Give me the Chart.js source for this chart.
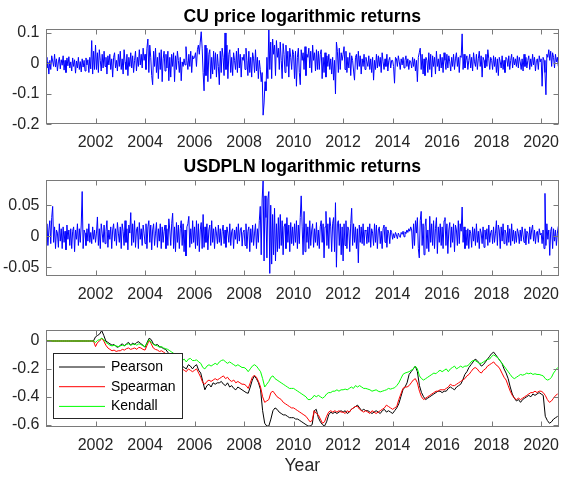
<!DOCTYPE html>
<html>
<head>
<meta charset="utf-8">
<script src="https://cdn.jsdelivr.net/npm/chart.js@4.4.1/dist/chart.umd.min.js"></script>
<style>
body { margin: 0; background: #fff; }
#wrap { position: relative; width: 568px; height: 477px; }
canvas { position: absolute; left: 0; }
</style>
</head>
<body>
<div id="wrap">
<canvas id="cuChart" width="568" height="150" style="top:0px"></canvas>
<canvas id="fxChart" width="568" height="155" style="top:150px"></canvas>
<canvas id="corrChart" width="568" height="172" style="top:305px"></canvas>
</div>
<script>
// one row per year, 26 biweekly readings (2020 is partial)
const cuReturns = [
  [0.02,-0.015,0.005,-0.035,0.01,-0.02,0.025,0.008,-0.01,0.03,-0.012,0.015,-0.025,0.005,0.02,-0.018,0.012,-0.006,0.025,-0.022,0.01,-0.03,0.018,-0.008,0.022,-0.015],
  [0.005,-0.025,0.018,-0.01,0.012,-0.032,0.008,-0.015,0.02,-0.02,0.006,-0.028,0.015,-0.012,0.01,-0.025,0.018,-0.005,0.012,-0.03,0.02,-0.018,0.075,-0.035,0.04,-0.02],
  [0.06,-0.02,0.035,-0.03,0.045,0.01,-0.025,0.03,-0.015,0.04,-0.01,0.02,-0.035,0.025,-0.005,0.03,-0.02,0.015,-0.045,0.02,0.035,-0.015,0.01,-0.025,0.03,-0.01],
  [0.04,-0.02,0.015,-0.035,0.045,0.005,-0.02,0.03,-0.04,0.02,-0.01,0.035,-0.015,0.025,-0.03,0.01,0.04,-0.025,0.02,-0.01,0.045,-0.005,0.03,-0.015,0.05,0.01],
  [0.03,-0.02,0.05,0.08,-0.03,0.06,0.02,-0.04,-0.07,0.04,-0.01,0.05,-0.03,0.02,-0.05,0.035,-0.02,0.045,-0.06,0.015,0.04,-0.025,0.03,-0.015,0.04,-0.057],
  [0.02,-0.045,0.03,-0.01,0.035,-0.06,0.025,-0.02,0.04,0.01,-0.03,0.02,-0.057,0.005,-0.01,0.015,-0.005,0.055,0.01,-0.02,0.03,-0.01,0.04,-0.03,0.025,0.015],
  [0.02,0.035,-0.01,0.045,0.06,0.03,0.07,0.104,0.05,-0.03,-0.09,0.06,-0.04,0.05,-0.06,0.03,0.045,-0.05,0.02,-0.035,0.04,-0.02,0.035,-0.045,0.03,-0.01],
  [-0.07,0.04,-0.03,0.05,0.02,-0.04,0.1,-0.02,0.06,-0.05,0.03,0.045,-0.03,0.02,-0.04,0.035,0.01,-0.02,0.04,-0.03,0.05,-0.015,0.03,-0.045,0.02,0.01],
  [0.03,-0.02,0.05,0.01,-0.04,0.04,-0.03,0.02,-0.045,0.035,0.015,-0.03,0.045,-0.025,0.02,-0.05,0.01,-0.02,-0.06,-0.03,-0.17,-0.13,-0.06,-0.09,0.02,-0.05],
  [0.12,-0.02,0.07,-0.05,0.08,0.03,0.06,-0.04,0.075,0.02,0.05,-0.02,0.07,0.01,-0.05,0.065,0.03,-0.03,0.06,-0.01,0.04,-0.045,0.05,0.02,-0.02,0.045],
  [0.03,-0.05,0.04,-0.075,0.02,0.05,-0.03,-0.07,0.045,0.01,0.035,-0.02,0.055,-0.04,0.03,0.02,0.05,-0.015,0.04,-0.03,0.06,0.01,0.035,-0.025,0.045,-0.02],
  [0.04,-0.02,0.03,0.045,-0.05,0.02,-0.03,0.035,-0.045,0.025,-0.01,0.03,-0.02,0.015,-0.035,0.02,-0.055,0.01,-0.1,0.07,0.04,-0.03,0.05,-0.02,0.035,0.01],
  [0.03,0.055,-0.02,0.04,-0.03,0.02,-0.015,0.035,-0.04,0.025,0.01,-0.025,-0.055,0.02,0.03,-0.02,0.04,-0.01,0.025,-0.035,0.015,-0.01,0.03,-0.02,0.02,0.005],
  [-0.01,0.025,-0.02,0.015,-0.03,0.02,-0.055,0.01,-0.02,0.03,-0.015,0.025,-0.01,0.02,-0.03,0.035,0.005,-0.02,0.015,-0.01,0.03,-0.025,0.01,0.02,-0.015,0.01],
  [0.01,-0.01,-0.065,0.02,0.015,-0.01,0.025,0.005,-0.02,0.015,-0.005,0.02,-0.015,0.01,0.025,-0.01,0.015,-0.02,0.01,0.005,-0.015,0.02,-0.01,0.015,-0.025,0.01],
  [-0.06,0.02,0.035,0.05,-0.02,0.03,-0.035,0.015,-0.04,0.02,0.01,-0.03,0.035,-0.02,0.03,-0.045,0.025,-0.01,0.02,-0.035,0.04,-0.01,0.015,-0.025,0.03,-0.015],
  [0.02,-0.03,0.035,0.01,-0.02,0.03,-0.015,0.025,0.005,-0.025,0.02,-0.01,0.03,-0.02,0.015,0.035,-0.01,0.02,-0.03,0.025,0.02,0.097,-0.02,0.03,-0.015,0.01],
  [0.025,-0.02,0.01,0.03,-0.015,0.02,-0.025,0.035,0.005,-0.01,0.03,-0.02,0.015,0.04,-0.01,0.025,-0.045,0.02,0.01,-0.015,0.03,-0.01,0.045,0.015,-0.02,0.02],
  [0.01,-0.02,0.025,-0.01,0.02,-0.03,0.015,-0.04,0.02,0.005,-0.015,0.025,-0.02,0.01,-0.03,0.02,0.015,-0.01,0.025,-0.02,0.01,0.03,-0.015,0.02,-0.005,0.015],
  [-0.01,0.025,-0.015,0.02,0.005,-0.02,0.015,-0.025,0.03,-0.01,0.02,-0.015,0.01,0.025,-0.02,0.015,-0.01,0.03,-0.005,0.02,-0.025,0.01,0.015,-0.02,0.025,0.005],
  [0.015,-0.075,0.02,0.01,-0.03,-0.103,0.03,0.02,0.045,0.01,0.04,-0.01,0.035,0.02,-0.015,0.03,0.005,0.02,-0.01]
];

const usdplnReturns = [
  [-0.01,0.02,-0.015,0.01,0.025,-0.012,0.03,0.048,-0.01,0.015,-0.02,0.01,0.005,-0.018,0.02,-0.008,0.012,-0.02,0.015,-0.01,0.008,-0.022,0.018,-0.005,0.01,-0.015],
  [0.012,-0.02,0.008,0.015,-0.025,0.01,-0.005,0.02,-0.015,0.012,-0.01,0.018,0.072,-0.02,0.01,0.005,-0.015,0.012,-0.008,0.02,-0.01,0.006,-0.012,0.015,-0.005,0.01],
  [-0.01,0.005,0.031,-0.015,0.012,-0.02,0.02,0.005,-0.01,0.018,-0.012,0.008,0.025,-0.018,0.01,-0.005,0.015,-0.02,0.01,0.02,-0.008,0.012,-0.015,0.022,0.005,-0.01],
  [0.015,-0.02,0.02,0.008,-0.015,0.025,-0.01,0.012,-0.022,0.018,0.005,0.038,-0.015,0.02,-0.01,0.025,-0.018,0.01,0.015,-0.02,0.022,-0.005,0.012,-0.015,0.018,0.005],
  [-0.012,0.02,-0.02,0.015,0.025,-0.01,0.018,-0.022,0.01,0.02,-0.015,0.005,0.022,-0.018,0.012,-0.008,0.02,-0.02,0.015,-0.01,0.008,0.018,-0.02,0.012,-0.015,0.028],
  [0.01,-0.015,0.02,0.037,-0.02,0.015,-0.025,0.022,-0.01,0.018,-0.02,0.012,0.025,-0.015,0.02,-0.025,0.01,-0.032,0.015,0.02,0.032,-0.018,0.012,-0.012,0.025,-0.01],
  [0.015,-0.02,0.025,-0.015,0.02,-0.025,0.01,0.022,-0.02,0.035,-0.018,0.015,-0.01,0.02,-0.022,0.01,0.018,-0.015,0.025,-0.01,0.012,-0.02,0.015,0.005,-0.012,0.018],
  [-0.01,0.012,-0.015,0.008,0.018,-0.012,0.01,-0.018,0.015,0.005,-0.01,0.02,-0.015,0.008,0.012,-0.02,0.01,-0.005,0.015,-0.012,0.02,-0.008,0.01,0.014,-0.016,0.006],
  [0.01,-0.015,0.02,-0.02,0.008,0.015,-0.025,0.012,-0.01,0.018,-0.015,0.005,0.02,-0.02,0.012,-0.01,0.025,0.048,-0.03,0.06,0.09,-0.04,0.065,0.03,-0.035,0.06],
  [0.072,-0.06,0.05,-0.045,0.035,-0.03,0.045,-0.04,0.02,-0.025,0.03,-0.02,0.035,-0.015,0.025,-0.03,0.015,0.02,-0.02,0.03,-0.01,0.018,-0.025,0.022,-0.012,0.015],
  [-0.015,0.02,-0.01,0.025,-0.02,0.018,-0.012,0.03,0.065,0.015,-0.03,0.04,-0.025,0.02,-0.01,0.015,-0.02,0.025,-0.015,0.01,0.02,-0.018,0.012,-0.01,0.022,-0.015],
  [0.01,-0.02,0.015,0.025,-0.01,0.02,-0.035,0.015,0.04,-0.015,0.02,-0.02,0.03,0.015,-0.025,0.02,0.03,-0.025,0.054,-0.05,0.02,0.025,-0.015,0.02,-0.03,0.015],
  [-0.04,0.02,-0.015,0.025,-0.02,0.015,0.01,-0.025,0.02,0.045,-0.015,0.02,-0.01,0.015,-0.02,0.012,-0.043,0.018,-0.01,0.015,-0.012,0.02,-0.015,0.01,0.008,-0.012],
  [0.015,-0.01,0.02,-0.018,0.012,0.005,-0.015,0.02,-0.01,0.018,-0.02,0.01,0.015,-0.012,0.008,-0.02,0.012,0.018,-0.01,0.015,-0.018,0.01,0.005,-0.012,0.01,0.006],
  [-0.005,0.004,-0.003,0.006,0.002,-0.004,0.005,0.001,-0.002,0.006,0.003,0.008,-0.001,0.007,0.004,0.01,0.006,0.012,0.008,0.015,0.01,-0.02,0.02,-0.015,0.025,0.005],
  [0.03,-0.02,-0.035,0.025,0.04,-0.015,0.02,-0.03,0.015,0.028,-0.02,0.01,-0.025,0.032,-0.01,0.02,-0.015,0.025,-0.02,0.012,0.03,-0.028,0.015,-0.01,0.02,-0.015],
  [0.015,-0.02,0.025,0.03,-0.015,0.02,-0.028,0.01,0.022,-0.018,0.015,-0.01,0.02,-0.025,0.018,0.01,-0.015,0.025,-0.012,0.02,0.008,0.047,-0.01,0.015,-0.02,0.01],
  [-0.015,0.012,-0.02,0.01,0.005,-0.018,0.015,-0.008,0.012,-0.015,0.02,-0.01,0.008,-0.02,0.012,0.005,-0.012,0.015,-0.018,0.01,-0.005,0.012,-0.015,0.018,-0.01,0.006],
  [0.01,-0.012,0.015,-0.01,0.005,0.025,-0.015,0.018,0.01,-0.02,0.015,-0.008,0.02,-0.012,0.01,0.005,-0.015,0.018,-0.01,0.012,-0.015,0.02,-0.008,0.01,-0.012,0.008],
  [-0.01,0.012,0.005,-0.012,0.01,-0.008,0.015,0.002,-0.01,0.012,-0.014,0.008,0.005,-0.012,0.015,-0.005,0.01,0.018,-0.008,0.01,-0.012,0.005,0.008,-0.01,0.012,0.002],
  [0.005,-0.012,0.01,-0.02,0.069,-0.015,0.02,-0.005,0.01,-0.031,0.008,0.015,-0.02,0.012,-0.008,0.01,-0.015,0.005,0.016]
];

// rolling correlations, one row per year, monthly readings
const pearson = [
  [0,0,0,0,0,0,0,0,0,0,0,0],
  [0,0,0,0,0,0,0,0,0,0,0,0],
  [0.03,0.04,0.05,0.075,0.04,0.0,-0.01,-0.02,-0.03,-0.025,-0.04,-0.045],
  [-0.03,-0.02,-0.035,-0.02,-0.01,-0.03,-0.015,-0.025,-0.01,-0.005,-0.02,-0.03],
  [-0.045,-0.01,0.02,0.01,-0.02,-0.03,-0.025,-0.04,-0.045,-0.055,-0.06,-0.08],
  [-0.1,-0.12,-0.14,-0.15,-0.17,-0.2,-0.18,-0.19,-0.2,-0.17,-0.18,-0.2],
  [-0.18,-0.17,-0.21,-0.23,-0.29,-0.35,-0.32,-0.31,-0.33,-0.3,-0.31,-0.3],
  [-0.3,-0.29,-0.31,-0.32,-0.3,-0.33,-0.32,-0.34,-0.35,-0.33,-0.34,-0.35],
  [-0.36,-0.37,-0.375,-0.33,-0.28,-0.25,-0.27,-0.3,-0.35,-0.5,-0.59,-0.61],
  [-0.61,-0.56,-0.5,-0.48,-0.49,-0.51,-0.52,-0.53,-0.53,-0.54,-0.55,-0.55],
  [-0.55,-0.56,-0.56,-0.57,-0.58,-0.59,-0.6,-0.61,-0.61,-0.6,-0.5,-0.49],
  [-0.55,-0.58,-0.6,-0.61,-0.58,-0.53,-0.51,-0.52,-0.51,-0.52,-0.51,-0.5],
  [-0.51,-0.5,-0.52,-0.51,-0.49,-0.48,-0.47,-0.46,-0.48,-0.5,-0.49,-0.5],
  [-0.5,-0.51,-0.52,-0.51,-0.5,-0.51,-0.52,-0.5,-0.49,-0.51,-0.5,-0.51],
  [-0.52,-0.5,-0.48,-0.45,-0.4,-0.35,-0.33,-0.3,-0.24,-0.22,-0.2,-0.18],
  [-0.22,-0.32,-0.37,-0.4,-0.42,-0.41,-0.4,-0.39,-0.38,-0.37,-0.36,-0.36],
  [-0.37,-0.36,-0.36,-0.34,-0.33,-0.34,-0.35,-0.33,-0.32,-0.31,-0.28,-0.24],
  [-0.22,-0.19,-0.17,-0.15,-0.13,-0.14,-0.16,-0.18,-0.17,-0.15,-0.13,-0.11],
  [-0.09,-0.08,-0.1,-0.12,-0.14,-0.16,-0.2,-0.23,-0.27,-0.33,-0.38,-0.41],
  [-0.43,-0.42,-0.44,-0.42,-0.41,-0.4,-0.39,-0.4,-0.38,-0.39,-0.38,-0.37],
  [-0.38,-0.39,-0.54,-0.57,-0.59,-0.58,-0.56,-0.55,-0.54]
];
const spearman = [
  [0,0,0,0,0,0,0,0,0,0,0,0],
  [0,0,0,0,0,0,0,0,0,0,0,0],
  [-0.04,-0.01,0.0,0.02,0.0,-0.03,-0.05,-0.06,-0.07,-0.065,-0.075,-0.07],
  [-0.07,-0.06,-0.065,-0.055,-0.05,-0.06,-0.055,-0.05,-0.06,-0.045,-0.05,-0.06],
  [-0.065,-0.03,0.005,-0.02,-0.05,-0.06,-0.065,-0.075,-0.07,-0.08,-0.09,-0.1],
  [-0.11,-0.13,-0.15,-0.17,-0.19,-0.21,-0.2,-0.21,-0.22,-0.2,-0.21,-0.22],
  [-0.21,-0.2,-0.23,-0.26,-0.3,-0.31,-0.29,-0.28,-0.29,-0.28,-0.27,-0.28],
  [-0.27,-0.26,-0.25,-0.27,-0.26,-0.28,-0.29,-0.28,-0.3,-0.29,-0.3,-0.31],
  [-0.31,-0.32,-0.34,-0.3,-0.26,-0.245,-0.26,-0.29,-0.33,-0.4,-0.44,-0.43],
  [-0.42,-0.37,-0.36,-0.38,-0.4,-0.41,-0.42,-0.44,-0.45,-0.46,-0.47,-0.48],
  [-0.48,-0.49,-0.5,-0.51,-0.52,-0.53,-0.54,-0.56,-0.58,-0.57,-0.5,-0.52],
  [-0.53,-0.56,-0.59,-0.58,-0.54,-0.51,-0.5,-0.51,-0.5,-0.51,-0.5,-0.51],
  [-0.51,-0.52,-0.5,-0.51,-0.49,-0.48,-0.47,-0.47,-0.49,-0.5,-0.51,-0.5],
  [-0.51,-0.52,-0.5,-0.51,-0.52,-0.51,-0.5,-0.49,-0.48,-0.46,-0.47,-0.48],
  [-0.49,-0.48,-0.47,-0.42,-0.38,-0.34,-0.33,-0.33,-0.32,-0.3,-0.28,-0.27],
  [-0.3,-0.36,-0.4,-0.42,-0.41,-0.4,-0.39,-0.38,-0.37,-0.36,-0.36,-0.35],
  [-0.35,-0.35,-0.34,-0.33,-0.31,-0.32,-0.32,-0.31,-0.3,-0.29,-0.28,-0.27],
  [-0.25,-0.24,-0.22,-0.2,-0.19,-0.2,-0.22,-0.23,-0.21,-0.2,-0.18,-0.17],
  [-0.16,-0.15,-0.17,-0.18,-0.2,-0.23,-0.26,-0.28,-0.32,-0.36,-0.39,-0.41],
  [-0.42,-0.41,-0.42,-0.41,-0.4,-0.39,-0.38,-0.37,-0.37,-0.36,-0.37,-0.36],
  [-0.36,-0.37,-0.39,-0.42,-0.44,-0.43,-0.41,-0.39,-0.38]
];
const kendall = [
  [0,0,0,0,0,0,0,0,0,0,0,0],
  [0,0,0,0,0,0,0,0,0,0,0,0],
  [-0.01,0.005,0.01,0.02,0.01,-0.01,-0.02,-0.03,-0.035,-0.03,-0.035,-0.04],
  [-0.035,-0.03,-0.035,-0.025,-0.02,-0.03,-0.025,-0.02,-0.03,-0.02,-0.025,-0.035],
  [-0.04,-0.015,0.01,-0.01,-0.025,-0.03,-0.035,-0.045,-0.04,-0.05,-0.055,-0.06],
  [-0.07,-0.08,-0.09,-0.11,-0.13,-0.15,-0.14,-0.13,-0.15,-0.13,-0.125,-0.14],
  [-0.14,-0.135,-0.15,-0.16,-0.19,-0.2,-0.18,-0.17,-0.18,-0.17,-0.16,-0.17],
  [-0.15,-0.14,-0.135,-0.15,-0.16,-0.15,-0.16,-0.17,-0.18,-0.17,-0.18,-0.19],
  [-0.19,-0.2,-0.22,-0.2,-0.18,-0.17,-0.18,-0.2,-0.22,-0.27,-0.33,-0.31],
  [-0.29,-0.26,-0.25,-0.27,-0.28,-0.29,-0.3,-0.31,-0.32,-0.33,-0.34,-0.34],
  [-0.34,-0.35,-0.36,-0.37,-0.38,-0.39,-0.4,-0.42,-0.42,-0.41,-0.39,-0.4],
  [-0.39,-0.4,-0.41,-0.4,-0.38,-0.37,-0.37,-0.36,-0.36,-0.35,-0.36,-0.35],
  [-0.35,-0.345,-0.35,-0.34,-0.33,-0.34,-0.32,-0.33,-0.32,-0.33,-0.34,-0.34],
  [-0.345,-0.35,-0.36,-0.355,-0.35,-0.36,-0.365,-0.36,-0.355,-0.35,-0.34,-0.345],
  [-0.34,-0.335,-0.32,-0.3,-0.27,-0.24,-0.23,-0.225,-0.22,-0.21,-0.2,-0.18],
  [-0.2,-0.25,-0.27,-0.28,-0.27,-0.26,-0.25,-0.24,-0.23,-0.235,-0.22,-0.21],
  [-0.22,-0.21,-0.2,-0.22,-0.2,-0.19,-0.18,-0.2,-0.19,-0.18,-0.19,-0.18],
  [-0.18,-0.17,-0.15,-0.14,-0.14,-0.15,-0.16,-0.16,-0.15,-0.14,-0.13,-0.13],
  [-0.11,-0.1,-0.11,-0.12,-0.14,-0.16,-0.18,-0.2,-0.22,-0.24,-0.26,-0.27],
  [-0.26,-0.25,-0.24,-0.245,-0.24,-0.23,-0.235,-0.23,-0.24,-0.235,-0.24,-0.24],
  [-0.245,-0.25,-0.27,-0.28,-0.275,-0.26,-0.23,-0.21,-0.19]
];

const firstYear = 2000;
const yearTicks = [2002, 2004, 2006, 2008, 2010, 2012, 2014, 2016, 2018, 2020];
const cuTicks = [-0.2, -0.1, 0, 0.1];
const fxTicks = [-0.05, 0, 0.05];
const corrTicks = [-0.6, -0.4, -0.2, 0];

const FONT = '"Liberation Sans", Arial, Helvetica, sans-serif';

// turn the year rows into {x, y} points
function toPoints(rows, perYear) {
  const pts = [];
  rows.forEach((row, yi) => {
    row.forEach((v, j) => pts.push({ x: firstYear + yi + j / perYear, y: v }));
  });
  return pts;
}

// box, inward ticks, title, x label and legend like the matlab figure
const matlabAxes = {
  id: 'matlabAxes',
  afterDatasetsDraw(chart, args, opts) {
    const ctx = chart.ctx;
    const a = chart.chartArea;
    const xs = chart.scales.x, ys = chart.scales.y;
    ctx.save();

    if (opts.legend) {
      const lg = opts.legend;
      ctx.fillStyle = '#fff';
      ctx.fillRect(lg.x, lg.y, lg.w, lg.h);
      ctx.strokeStyle = '#262626';
      ctx.lineWidth = 1;
      ctx.strokeRect(lg.x + 0.5, lg.y + 0.5, lg.w, lg.h);
      ctx.font = '14px ' + FONT;
      ctx.textAlign = 'left';
      ctx.textBaseline = 'middle';
      chart.data.datasets.forEach((ds, i) => {
        const yy = lg.y + 14 + i * 19.7;
        ctx.strokeStyle = ds.borderColor;
        ctx.beginPath();
        ctx.moveTo(lg.x + 6, yy);
        ctx.lineTo(lg.x + 52, yy);
        ctx.stroke();
        ctx.fillStyle = '#000';
        ctx.fillText(ds.label, lg.x + 58, yy);
      });
    }

    const L = Math.round(a.left) + 0.5, R = Math.round(a.right) - 0.5;
    const T = Math.round(a.top) + 0.5, B = Math.round(a.bottom) - 0.5;
    ctx.strokeStyle = '#7a7a7a';
    ctx.lineWidth = 1;
    ctx.strokeRect(L, T, R - L, B - T);
    ctx.beginPath();
    xs.ticks.forEach(t => {
      const px = Math.round(xs.getPixelForValue(t.value)) + 0.5;
      ctx.moveTo(px, B); ctx.lineTo(px, B - 5);
      ctx.moveTo(px, T); ctx.lineTo(px, T + 5);
    });
    ys.ticks.forEach(t => {
      const py = Math.round(ys.getPixelForValue(t.value)) + 0.5;
      ctx.moveTo(L, py); ctx.lineTo(L + 5, py);
      ctx.moveTo(R, py); ctx.lineTo(R - 5, py);
    });
    ctx.stroke();

    ctx.textAlign = 'center';
    ctx.textBaseline = 'alphabetic';
    if (opts.title) {
      ctx.fillStyle = '#000';
      ctx.font = 'bold 17.6px ' + FONT;
      ctx.fillText(opts.title, (a.left + a.right) / 2, opts.titleY);
    }
    if (opts.xlabel) {
      ctx.fillStyle = '#262626';
      ctx.font = '17.6px ' + FONT;
      ctx.fillText(opts.xlabel, (a.left + a.right) / 2, opts.xlabelY);
    }
    ctx.restore();
  }
};

function makePanel(id, datasets, yMin, yMax, yTicks, padTop, xHeight, extra) {
  return new Chart(document.getElementById(id), {
    type: 'line',
    data: { datasets: datasets },
    options: {
      responsive: false,
      animation: false,
      events: [],
      layout: { padding: { top: padTop, right: 1, left: 0, bottom: 0 } },
      elements: { point: { radius: 0 }, line: { borderWidth: 1, tension: 0 } },
      plugins: {
        legend: { display: false },
        tooltip: { enabled: false },
        matlabAxes: extra
      },
      scales: {
        x: {
          type: 'linear',
          position: 'bottom',
          min: 2000,
          max: 2020.7,
          grid: { display: false, drawTicks: false },
          border: { display: false },
          afterBuildTicks: s => { s.ticks = yearTicks.map(v => ({ value: v })); },
          afterFit: s => { s.height = xHeight; },
          ticks: {
            autoSkip: false, maxRotation: 0, padding: 9,
            color: '#262626', font: { family: FONT, size: 16 },
            callback: v => String(v)
          }
        },
        y: {
          type: 'linear',
          position: 'left',
          min: yMin,
          max: yMax,
          grid: { display: false, drawTicks: false },
          border: { display: false },
          afterBuildTicks: s => { s.ticks = yTicks.map(v => ({ value: v })); },
          afterFit: s => { s.width = 46; },
          ticks: {
            padding: 6.5,
            color: '#262626', font: { family: FONT, size: 16 },
            callback: v => String(Math.round(v * 1000) / 1000)
          }
        }
      }
    },
    plugins: [matlabAxes]
  });
}

makePanel('cuChart', [{
  label: 'CU', data: toPoints(cuReturns, 26), borderColor: '#0000ff'
}], -0.2, 0.113, cuTicks, 29, 25.7,
  { title: 'CU price logarithmic returns', titleY: 21.7 });

makePanel('fxChart', [{
  label: 'USDPLN', data: toPoints(usdplnReturns, 26), borderColor: '#0000ff'
}], -0.0634, 0.0906, fxTicks, 30, 29.5,
  { title: 'USDPLN logarithmic returns', titleY: 22 });

makePanel('corrChart', [
  { label: 'Pearson', data: toPoints(pearson, 12), borderColor: '#000000', order: 3 },
  { label: 'Spearman', data: toPoints(spearman, 12), borderColor: '#ff0000', order: 2 },
  { label: 'Kendall', data: toPoints(kendall, 12), borderColor: '#00ff00', order: 1 }
], -0.619, 0.079, corrTicks, 25, 49.7,
  { xlabel: 'Year', xlabelY: 166, legend: { x: 53, y: 48, w: 129, h: 65 } });
</script>
</body>
</html>
